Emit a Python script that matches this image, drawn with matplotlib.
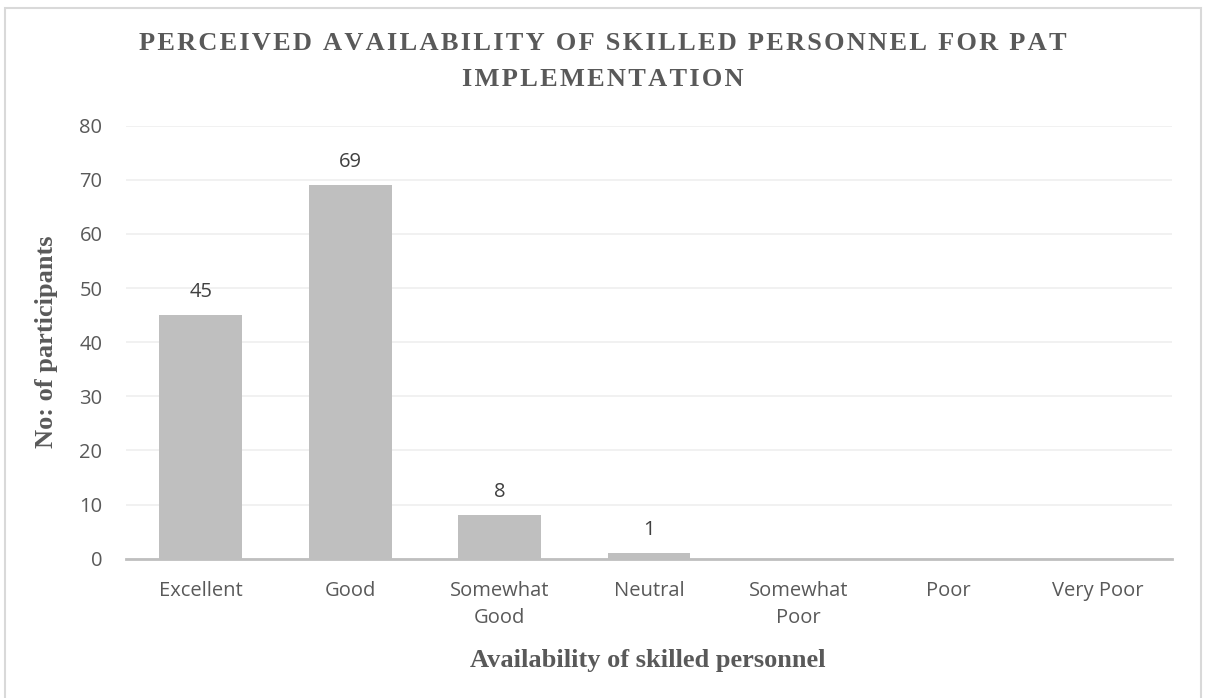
import numpy as np
import matplotlib
matplotlib.use("Agg")
import matplotlib.pyplot as plt
from matplotlib.patches import Rectangle

categories = ["Excellent", "Good", "Somewhat\nGood", "Neutral", "Somewhat\nPoor", "Poor", "Very Poor"]
counts = [45, 69, 8, 1, 0, 0, 0]
yticks = [0, 10, 20, 30, 40, 50, 60, 70, 80]

title_lines = ["PERCEIVED AVAILABILITY OF SKILLED PERSONNEL FOR PAT", "IMPLEMENTATION"]
xlabel = "Availability of skilled personnel"
ylabel = "No: of participants"

sans = ["Open Sans", "DejaVu Sans"]
serif = ["Liberation Serif", "DejaVu Serif"]

fig = plt.figure(figsize=(12.05, 6.98), dpi=100)
ax = fig.add_axes([0.1046, 0.1996, 0.868, 0.6203])

# outer chart frame
fig.patches.append(Rectangle((5 / 1205, -0.01), 1196 / 1205, 1 - 8 / 698 + 0.01,
                             transform=fig.transFigure, fill=False,
                             edgecolor="#D9D9D9", linewidth=1.5))

x = np.arange(len(categories))
bars = ax.bar(x, counts, width=0.555, color="#BFBFBF", zorder=2)

for b, v in zip(bars, counts):
    if v > 0:
        ax.annotate(str(v), (b.get_x() + b.get_width() / 2, v),
                    xytext=(0, 17), textcoords="offset points",
                    ha="center", va="center", fontsize=14.5,
                    color="#404040", family=sans)

ax.set_xlim(-0.5, len(categories) - 0.5)
ax.set_ylim(0, 80)
ax.set_yticks(yticks)
ax.set_xticks(x)
ax.set_xticklabels(categories, fontsize=14.5, color="#595959", family=sans,
                   linespacing=1.45)
ax.set_yticklabels([str(t) for t in yticks], fontsize=14.5, color="#595959",
                   family=sans)
ax.tick_params(axis="x", length=0, pad=16)
ax.tick_params(axis="y", length=0, pad=17)

ax.grid(axis="y", color="#EFEFEF", linewidth=1.2, zorder=0)
for s in ["top", "right", "left"]:
    ax.spines[s].set_visible(False)
ax.spines["bottom"].set_color("#BFBFBF")
ax.spines["bottom"].set_linewidth(2)
ax.spines["bottom"].set_zorder(3)

# title has wide letter spacing, so pad with hair spaces
hair = "\u200a"
for line, ypx in zip(title_lines, [43, 80]):
    fig.text(0.5, 1 - ypx / 698, hair.join(line), ha="center", va="center",
             fontsize=19, fontweight="bold", color="#595959", family=serif)
fig.text(648 / 1205, 1 - 661 / 698, xlabel, ha="center", va="center",
         fontsize=19, fontweight="bold", color="#595959", family=serif)
fig.text(46 / 1205, 1 - 342 / 698, ylabel, ha="center", va="center",
         rotation=90, fontsize=19, fontweight="bold", color="#595959",
         family=serif)

fig.savefig("out.png", dpi=100)
